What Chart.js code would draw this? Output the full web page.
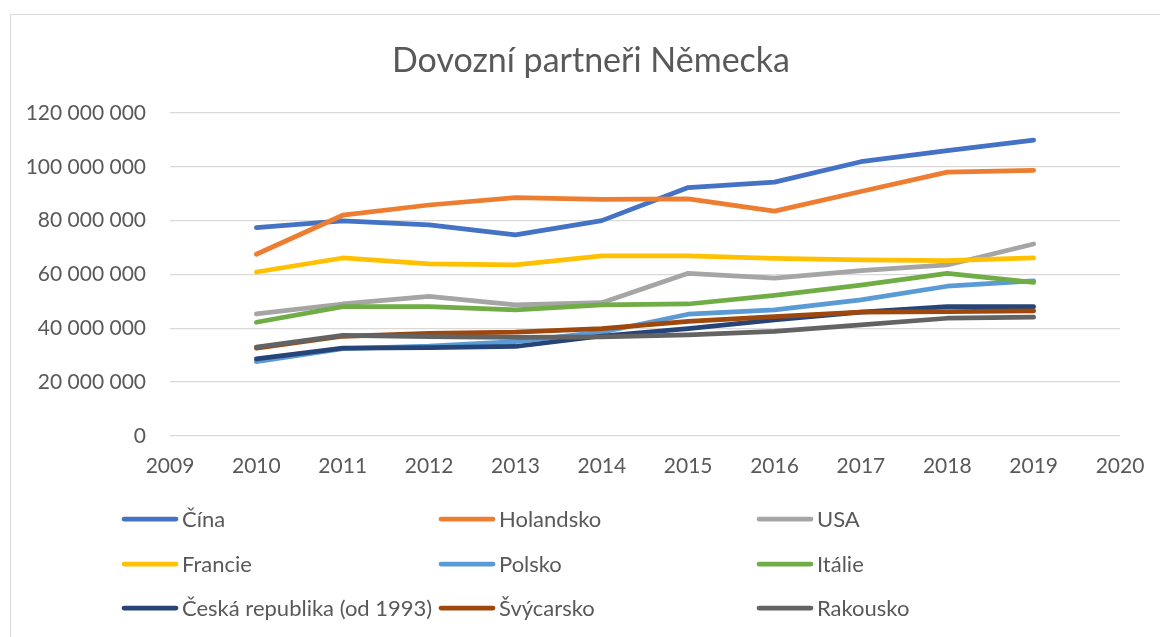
<!DOCTYPE html>
<html>
<head>
<meta charset="utf-8">
<script src="https://cdn.jsdelivr.net/npm/chart.js@4.4.1/dist/chart.umd.min.js"></script>
<style>
    body { margin: 0; background: #fff; overflow: hidden; }
    #box { position: absolute; left: 10px; top: 14px; width: 1160px; height: 640px; border: 1px solid #d9d9d9; }
    canvas { display: block; }
</style>
</head>
<body>
<div id="box"><canvas id="chart" width="1160" height="622"></canvas></div>
<script>
const years = [2010, 2011, 2012, 2013, 2014, 2015, 2016, 2017, 2018, 2019];

const seriesNames = ['Čína', 'Holandsko', 'USA', 'Francie', 'Polsko', 'Itálie', 'Česká republika (od 1993)', 'Švýcarsko', 'Rakousko'];

const cina = [77400000, 79900000, 78400000, 74700000, 80000000, 92300000, 94300000, 101900000, 106000000, 109900000];
const holandsko = [67500000, 82000000, 85800000, 88500000, 87900000, 88100000, 83500000, 90800000, 98000000, 98700000];
const usa = [45300000, 49000000, 51800000, 48700000, 49500000, 60400000, 58600000, 61400000, 63500000, 71300000];
const francie = [60900000, 66100000, 63900000, 63500000, 66900000, 66900000, 66000000, 65400000, 65100000, 66100000];
const polsko = [27600000, 32400000, 33300000, 35000000, 38500000, 45200000, 46800000, 50500000, 55600000, 57600000];
const italie = [42200000, 48000000, 48000000, 46800000, 48700000, 49000000, 52200000, 56000000, 60400000, 57000000];
const cesko = [28600000, 32600000, 32800000, 33200000, 37100000, 39800000, 43100000, 46000000, 48000000, 48000000];
const svycarsko = [32600000, 37000000, 38100000, 38500000, 39800000, 42500000, 44300000, 46000000, 46200000, 46400000];
const rakousko = [33000000, 37300000, 36900000, 36600000, 36800000, 37500000, 38800000, 41200000, 43700000, 44100000];

const seriesValues = [cina, holandsko, usa, francie, polsko, italie, cesko, svycarsko, rakousko];
const seriesColors = ['#4472C4', '#ED7D31', '#A5A5A5', '#FFC000', '#5B9BD5', '#70AD47', '#264478', '#9E480E', '#636363'];

const FONT = 'Lato';
const TEXT = '#595959';
const TITLE = 'Dovozní partneři Německa';

function formatThousands(v) {
    return String(v).replace(/\B(?=(\d{3})+(?!\d))/g, ' ');
}

// title + 3 column legend, placed like the Excel chart
const excelDecor = {
    id: 'excelDecor',
    afterDraw(chart) {
        const ctx = chart.ctx;
        ctx.save();
        ctx.fillStyle = TEXT;
        ctx.textBaseline = 'middle';
        ctx.textAlign = 'center';
        ctx.font = '34px ' + FONT;
        ctx.fillText(TITLE, 580, 46);

        const colX = [111, 428, 746];
        const rowY = [504, 549, 593];
        ctx.font = '22px ' + FONT;
        ctx.textAlign = 'left';
        seriesNames.forEach((name, i) => {
            const x = colX[i % 3];
            const y = rowY[Math.floor(i / 3)];
            ctx.strokeStyle = seriesColors[i];
            ctx.lineWidth = 4.75;
            ctx.lineCap = 'round';
            ctx.beginPath();
            ctx.moveTo(x + 2, y);
            ctx.lineTo(x + 54, y);
            ctx.stroke();
            ctx.fillStyle = TEXT;
            ctx.fillText(name, x + 60, y + 1);
        });
        ctx.restore();
    }
};

const datasets = seriesNames.map((name, i) => ({
    label: name,
    data: years.map((yr, j) => ({ x: yr, y: seriesValues[i][j] })),
    borderColor: seriesColors[i],
    backgroundColor: seriesColors[i],
    borderWidth: 4.75,
    borderCapStyle: 'round',
    borderJoinStyle: 'round',
    pointRadius: 0,
    tension: 0,
    order: -i,
}));

const ctx = document.getElementById('chart');

const chart = new Chart(ctx, {
    type: 'line',
    data: { datasets: datasets },
    options: {
        responsive: false,
        animation: false,
        layout: {
            padding: { left: 0, right: 51, top: 98, bottom: 140 }
        },
        plugins: {
            legend: { display: false },
            tooltip: { enabled: false },
            title: { display: false },
        },
        scales: {
            x: {
                type: 'linear',
                min: 2009,
                max: 2020,
                grid: { display: false, drawTicks: false },
                border: { display: false },
                ticks: {
                    stepSize: 1,
                    color: TEXT,
                    padding: 18,
                    font: { family: FONT, size: 21 },
                    callback: (v) => String(v),
                },
            },
            y: {
                min: 0,
                max: 120000000,
                afterFit: (scale) => { scale.width = 159; },
                grid: { color: '#d9d9d9', lineWidth: 1.3, drawTicks: false },
                border: { display: false },
                ticks: {
                    stepSize: 20000000,
                    color: TEXT,
                    padding: 24,
                    font: { family: FONT, size: 21 },
                    callback: (v) => formatThousands(v),
                },
            },
        },
    },
    plugins: [excelDecor],
});
</script>
</body>
</html>
